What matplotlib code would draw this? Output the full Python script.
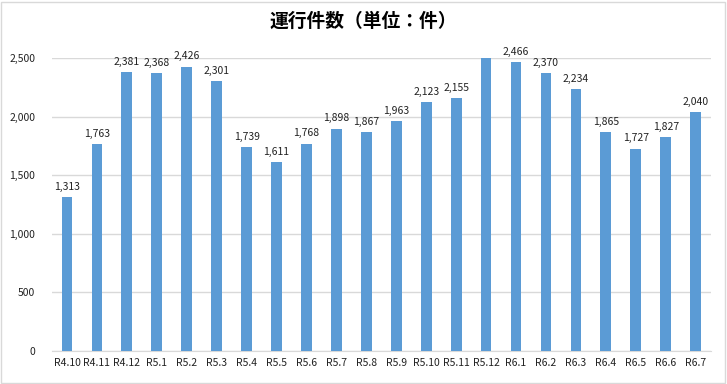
import matplotlib.pyplot as plt
from matplotlib.patches import Rectangle

plt.rcParams['font.family'] = ['Noto Sans CJK JP', 'DejaVu Sans']

months = ["R4.10", "R4.11", "R4.12", "R5.1", "R5.2", "R5.3", "R5.4", "R5.5",
          "R5.6", "R5.7", "R5.8", "R5.9", "R5.10", "R5.11", "R5.12", "R6.1",
          "R6.2", "R6.3", "R6.4", "R6.5", "R6.6", "R6.7"]
counts = [1313, 1763, 2381, 2368, 2426, 2301, 1739, 1611, 1768, 1898, 1867,
          1963, 2123, 2155, 2550, 2466, 2370, 2234, 1865, 1727, 1827, 2040]
ymax = 2500

fig = plt.figure(figsize=(7.27, 3.84), dpi=100)
fig.patches.append(Rectangle((0.002, 0.003), 0.995, 0.993, transform=fig.transFigure,
                             fill=False, edgecolor="#D9D9D9", linewidth=1))
ax = fig.add_axes([0.0715, 0.086, 0.906, 0.763])

x = range(len(months))
ax.bar(x, counts, width=0.36, color="#5B9BD5", zorder=3)
for i, v in zip(x, counts):
    if v <= ymax:
        ax.text(i, v + 45, f"{v:,}", ha="center", va="bottom", fontsize=7.5, color="#222222")

ax.set_ylim(0, ymax)
ax.set_xlim(-0.5, len(months) - 0.5)
ax.set_yticks(range(0, 2501, 500))
ax.set_yticklabels([f"{t:,}" for t in range(0, 2501, 500)])
ax.set_xticks(list(x))
ax.set_xticklabels(months)
ax.tick_params(axis="both", length=0, labelsize=7.5, colors="#222222")
ax.tick_params(axis="y", pad=12)
ax.tick_params(axis="x", pad=5)
ax.grid(axis="y", color="#D9D9D9", linewidth=1, zorder=0)
for s in ["top", "right", "left"]:
    ax.spines[s].set_visible(False)
ax.spines["bottom"].set_color("#D9D9D9")

fig.text(0.5, 0.945, "運行件数（単位：件）", ha="center", va="center",
         fontsize=13.5, fontweight="bold")

fig.savefig("out.png", dpi=100)
